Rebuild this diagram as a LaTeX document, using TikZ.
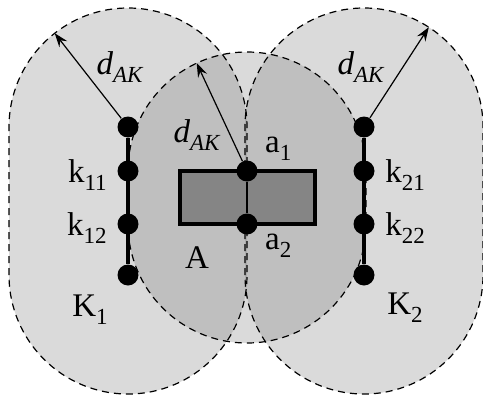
\documentclass[tikz,border=0pt]{standalone}
\usepackage{fontspec}
\setmainfont{Liberation Serif}
\usetikzlibrary{arrows.meta, positioning}
\definecolor{zone}{HTML}{7A7A7A}
\definecolor{block}{HTML}{858585}
\newcommand{\lowsub}[1]{\raisebox{-0.55ex}{\fontsize{11.5}{11.5}\selectfont #1}}
\tikzset{
  zonefill/.style={fill=zone, fill opacity=0.28},
  zoneline/.style={draw=black, line width=0.6pt, dash pattern=on 3.5pt off 2.5pt},
  kdot/.style={circle, fill=black, inner sep=0pt, minimum size=10.5pt},
  seg/.style={line width=1.8pt},
  radarrow/.style={line width=0.6pt, -{Stealth[length=7pt, width=5pt, inset=2.5pt]}},
  lbl/.style={font=\fontsize{16.5}{18}\selectfont, inner sep=1pt}
}

\begin{document}
\begin{tikzpicture}[x=0.5pt, y=0.5pt]
  \useasboundingbox (0,0) rectangle (483,398);

  % ---- Zones of width d_AK round K1, A and K2 ------------------------------
  \foreach \x/\t/\b in {128/271/123, 247/227/174, 364/271/123}
    \fill[zonefill] (\x-119,\b) -- (\x-119,\t)
      arc[start angle=180, end angle=0, radius=119] -- (\x+119,\b)
      arc[start angle=0, end angle=-180, radius=119] -- cycle;
  \foreach \x/\t/\b in {128/271/123, 247/227/174, 364/271/123}
    \draw[zoneline] (\x-119,\b) -- (\x-119,\t)
      arc[start angle=180, end angle=0, radius=119] -- (\x+119,\b)
      arc[start angle=0, end angle=-180, radius=119] -- cycle;

  % ---- Block A ------------------------------------------------------------
  \draw[seg, fill=block] (180,174) rectangle (315,227);

  % ---- Points -------------------------------------------------------------
  \node[kdot] (k1a) at (128,271) {};
  \node[kdot] (k11) at (128,227) {};
  \node[kdot] (k12) at (128,174) {};
  \node[kdot] (k1b) at (128,123) {};
  \node[kdot] (k2a) at (364,271) {};
  \node[kdot] (k21) at (364,227) {};
  \node[kdot] (k22) at (364,174) {};
  \node[kdot] (k2b) at (364,123) {};
  \node[kdot] (a1)  at (247,227) {};
  \node[kdot] (a2)  at (247,174) {};

  % ---- Segments -----------------------------------------------------------
  \draw[seg] (k1a) -- (k1b);
  \draw[seg] (k2a) -- (k2b);
  \draw[line width=1.1pt] (a1) -- (a2);

  % ---- Radius arrows ------------------------------------------------------
  \coordinate (r1) at ([shift={(128:119)}]k1a.center);
  \coordinate (ra) at ([shift={(115:119)}]a1.center);
  \coordinate (r2) at ([shift={(57:119)}]k2a.center);
  \draw[radarrow] (k1a) -- (r1);
  \draw[radarrow] (a1) -- (ra);
  \draw[radarrow] (k2a) -- (r2);

  % ---- Labels -------------------------------------------------------------
  \node[lbl] (dk1) at (120,331) {\textit{d}\lowsub{\textit{AK}}};
  \node[lbl] (dka) at (197,263) {\textit{d}\lowsub{\textit{AK}}};
  \node[lbl] (dk2) at (361,331) {\textit{d}\lowsub{\textit{AK}}};
  \node[lbl, left=4pt of k11, yshift=-2pt] (lk11) {k\lowsub{11}};
  \node[lbl, left=4pt of k12, yshift=-2pt] (lk12) {k\lowsub{12}};
  \node[lbl, right=4pt of k21, yshift=-2pt] (lk21) {k\lowsub{21}};
  \node[lbl, right=4pt of k22, yshift=-2pt] (lk22) {k\lowsub{22}};
  \node[lbl, above right=0pt and 4pt of a1] (la1) {a\lowsub{1}};
  \node[lbl, below right=0pt and 4pt of a2] (la2) {a\lowsub{2}};
  \node[lbl] (lA)  at (197,140) {A};
  \node[lbl] (lK1) at (90,88)   {K\lowsub{1}};
  \node[lbl] (lK2) at (405,90)  {K\lowsub{2}};

\end{tikzpicture}
\end{document}
